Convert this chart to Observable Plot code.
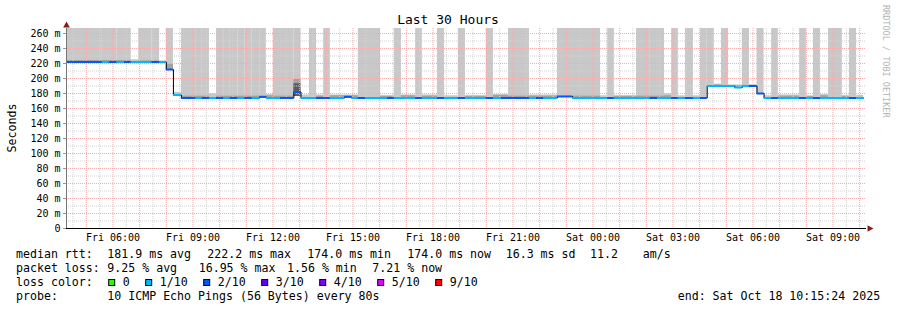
<!DOCTYPE html>
<html><head><meta charset="utf-8">
<script src="https://cdn.jsdelivr.net/npm/d3@7"></script>
<script src="https://cdn.jsdelivr.net/npm/@observablehq/plot@0.6"></script>
<style>
body{margin:0;background:#fff;}
svg{display:block;}
</style></head><body><div id="chart"></div>
<script>
const T = s => new Date(`2025-10-${s}Z`);
const rangeStart = "17T04:15:24", rangeEnd = "18T10:15:24", dataEnd = "18T10:09";
const yTop = 266.67;

// median rtt runs (start time, ms, lost pings of 10)
const medStart = ["17T04:15:24","17T05:36","17T05:52","17T06:09","17T06:26","17T06:41","17T07:28","17T07:45","17T08:00","17T08:16",
"17T08:34","17T09:06","17T09:21","17T09:37","17T09:53","17T10:09","17T10:24","17T10:41","17T10:57","17T11:13",
"17T11:30","17T11:45","17T12:17","17T12:47","17T13:03","17T13:38","17T14:09","17T14:41","17T14:57","17T15:12",
"17T15:28","17T16:18","17T16:33","17T17:21","17T17:36","17T18:10","17T18:26","17T18:57","17T19:13","17T20:00",
"17T20:16","17T20:34","17T21:37","17T21:53","17T22:09","17T22:40","17T23:14","18T00:33","18T00:48","18T02:09",
"18T02:25","18T02:57","18T03:12","18T03:28","18T03:46","18T04:02","18T04:17","18T05:19","18T05:36","18T05:52",
"18T06:09","18T06:25","18T06:42","18T06:57","18T07:45","18T08:00","18T08:16","18T08:32","18T09:37","18T09:53"];
const medValue = [222,222,222,222,222,222,222,222,212,178,
174,174,174,174,174,174,174,174,174,174,
175.5,174,174,182,174,174,174,175.5,174,174,
174,174,174,174,174,174,174,174,174,174,
174,174,174,174,174,176,174,174,174,174,
174,174,174,174,174,174,190,188,190,190,
180,174,174,174,174,174,174,174,174,174];
const medLoss = [2,1,2,1,2,1,2,1,2,1,
2,1,2,1,2,1,2,1,2,1,
2,1,2,2,1,2,1,2,1,2,
1,2,1,2,1,2,1,2,1,2,
1,2,1,2,1,2,1,2,1,2,
1,2,1,2,1,2,1,1,1,2,
2,1,2,1,2,1,2,1,2,1];

// smoke runs (start time, highest ping ms, inner band ms; 300 = above graph top, 0 = none)
const smokeStart = ["17T04:15:24","17T06:41","17T06:58","17T07:45","17T08:00","17T08:16","17T08:34","17T09:37","17T09:53","17T11:45",
"17T12:01","17T12:47","17T13:03","17T13:22","17T13:38","17T13:54","17T14:09","17T15:12","17T16:02","17T16:33",
"17T16:49","17T17:21","17T17:36","17T18:10","17T18:26","17T18:57","17T19:13","17T20:00","17T20:16","17T20:50",
"17T21:37","17T22:40","18T00:17","18T00:33","18T00:48","18T01:38","18T02:41","18T02:57","18T03:12","18T03:28",
"18T03:46","18T04:02","18T04:33","18T04:49","18T05:05","18T05:36","18T05:52","18T06:09","18T06:25","18T06:42",
"18T06:57","18T07:45","18T08:00","18T08:16","18T08:32","18T08:50","18T09:21","18T09:37","18T09:53"];
const smokeTop = [300,225,300,223.5,300,181.5,300,179.5,300,178.5,
300,300,178,300,178,300,178,300,177.5,300,
178,300,178,300,177,300,177.5,300,178.5,300,
178,300,177,300,177.5,300,179.5,300,177,300,
177,300,192.5,300,191.5,300,191.5,300,177,300,
178,300,177,300,178.5,300,177.5,300,177.5];
const smokeMid = [224,0,223.5,0,219,0,176.5,0,176.5,177,
176.5,199,0,0,176.5,0,177,0,176,0,
177,0,176.5,0,0,0,176,0,177.5,176.5,
176.5,176.5,0,0,176,176.5,177,0,0,0,
0,0,191.5,0,190.5,0,191,0,0,0,
176.5,0,176,0,177,0,176,0,0];
const darkStart = ["17T12:47"], darkEnd = ["17T13:03"], darkLo = [176], darkHi = [193];

const lossLevel = [0,1,2,3,4,5,9];
const lossLabel = ["0","1/10","2/10","3/10","4/10","5/10","9/10"];
const lossColor = ["#26ff00","#00b8ff","#0059ff","#5e00ff","#7e00ff","#dd00ff","#ff0000"];

const yTicks = d3.range(0, 261, 20);
const yMinor = d3.range(10, 261, 20);
const yMajor = d3.range(20, 261, 20);

const statRtt = [["median rtt:",16],["181.9 ms avg",107.3],["222.2 ms max",207.3],["174.0 ms min",307.3],["174.0 ms now",407.3],["16.3 ms sd",505.7],["11.2",590],["am/s",642.7]];
const statLoss = [["packet loss:",16],["9.25 % avg",107.3],["16.95 % max",198.7],["1.56 % min",287],["7.21 % now",372.3]];
const probeRow = [["probe:",16],["10 ICMP Echo Pings (56 Bytes) every 80s",107.3],["end: Sat Oct 18 10:15:24 2025",677.7]];

// ---- build tables ----
const t0 = T(rangeStart), t1 = T(rangeEnd), tEnd = T(dataEnd);
const medT = medStart.map(T), smokeT = smokeStart.map(T);
const medRuns = medT.map((t, i) => ({t1: t, t2: i + 1 < medT.length ? medT[i + 1] : tEnd, v: medValue[i],
  color: lossColor[lossLevel.indexOf(medLoss[i])]}));
const linePts = medRuns.map(d => ({t: d.t1, v: d.v})).concat([{t: tEnd, v: medValue[medValue.length - 1]}]);
const bounds = Array.from(new Set([...medT, ...smokeT, tEnd].map(d => +d))).sort((a, b) => a - b);
const steps = [];
for (let i = 0; i + 1 < bounds.length; i++) {
  const m = (bounds[i] + bounds[i + 1]) / 2;
  const mi = d3.bisectRight(medT.map(Number), m) - 1;
  const si = d3.bisectRight(smokeT.map(Number), m) - 1;
  steps.push({t1: new Date(bounds[i]), t2: new Date(bounds[i + 1]), med: medValue[mi], top: smokeTop[si], mid: smokeMid[si]});
}
const dark = darkStart.map((s, i) => ({t1: T(s), t2: T(darkEnd[i]), lo: darkLo[i], hi: darkHi[i]}));

const minorX = d3.utcMinute.every(30).range(t0, t1).filter(d => d.getUTCMinutes() !== 0);
const majorX = d3.utcHour.every(1).range(t0, t1);
const xTicks = d3.utcHour.every(3).range(t0, t1);

const dash = "1,1";
const svg = Plot.plot({
  width: 897, height: 310,
  marginTop: 28, marginBottom: 82, marginLeft: 66, marginRight: 31,
  style: {fontFamily: "DejaVu Sans Mono", fontSize: "10px", background: "#fff", color: "#000"},
  x: {type: "utc", domain: [t0, t1]},
  y: {domain: [0, yTop]},
  color: {type: "identity"},
  marks: [
    Plot.rectY(steps, {x1: "t1", x2: "t2", y1: d => d.med - 1, y2: "top", fill: "#c8c8c8", clip: true}),
    Plot.rectY(steps.filter(d => d.mid > 0), {x1: "t1", x2: "t2", y1: "med", y2: "mid", fill: "#a2a2a2", clip: true}),
    Plot.rectY(dark, {x1: "t1", x2: "t2", y1: "lo", y2: "hi", fill: "#5c5c5c"}),
    Plot.ruleX(minorX, {stroke: "#d2d2d2", strokeDasharray: dash}),
    Plot.ruleY(yMinor, {stroke: "#d2d2d2", strokeDasharray: dash}),
    Plot.ruleX(majorX, {stroke: "#f4acac", strokeDasharray: dash}),
    Plot.ruleY(yMajor, {stroke: "#f4acac", strokeDasharray: dash}),
    Plot.line(linePts, {x: "t", y: "v", curve: "step-after", stroke: "#000", strokeWidth: 1}),
    Plot.ruleY(medRuns, {x1: "t1", x2: "t2", y: "v", stroke: "color", strokeWidth: 2}),
    Plot.axisX({ticks: xTicks, tickFormat: d3.utcFormat("%a %H:%M"), tickSize: 0, tickPadding: 5.5, label: null}),
    Plot.axisY({ticks: yTicks, tickFormat: d => d === 0 ? "0" : `${d} m`, tickSize: 3, tickPadding: 3, stroke: "#999", fill: "#000", label: null}),
    Plot.ruleX([t0], {stroke: "#777"}),
    Plot.ruleY([0], {stroke: "#000"}),
    Plot.dot([t1], {x: d => d, y: 0, symbol: "triangle", rotate: 90, r: 2.5, fill: "#8b1a1a", stroke: "none", dx: 3}),
    Plot.dot([t0], {x: d => d, y: yTop, symbol: "triangle", r: 2.5, fill: "#8b1a1a", stroke: "none", dy: -3})
  ]
});

const g = d3.select(svg).append("g").attr("font-family", "DejaVu Sans Mono").attr("fill", "#000");
g.append("text").attr("x", 448).attr("y", 24).attr("text-anchor", "middle").attr("font-size", 13).text("Last 30 Hours");
g.append("text").attr("transform", "translate(15.5,128) rotate(-90)").attr("text-anchor", "middle").attr("font-size", 11.6).text("Seconds");
g.append("text").attr("transform", "translate(883,5) rotate(90)").attr("text-anchor", "start").attr("font-size", 8.5).attr("fill", "#b4b4b4").text("RRDTOOL / TOBI OETIKER");

const rowY = [258, 272, 286, 300];
const putRow = (items, y) => items.forEach(([s, x]) =>
  g.append("text").attr("x", x).attr("y", y).attr("text-anchor", "start").attr("font-size", 11.6).text(s));
putRow(statRtt, rowY[0]);
putRow(statLoss, rowY[1]);
putRow([["loss color:", 16]], rowY[2]);
let bx = 108.7;
lossLabel.forEach((lab, i) => {
  g.append("rect").attr("x", bx).attr("y", 279.5).attr("width", 6).attr("height", 6)
    .attr("fill", lossColor[i]).attr("stroke", "#000").attr("stroke-width", 1);
  g.append("text").attr("x", bx + 14).attr("y", rowY[2]).attr("text-anchor", "start").attr("font-size", 11.6).text(lab);
  bx += 14 + lab.length * 7 + 16;
});
putRow(probeRow, rowY[3]);

document.getElementById("chart").appendChild(svg);
</script></body></html>
